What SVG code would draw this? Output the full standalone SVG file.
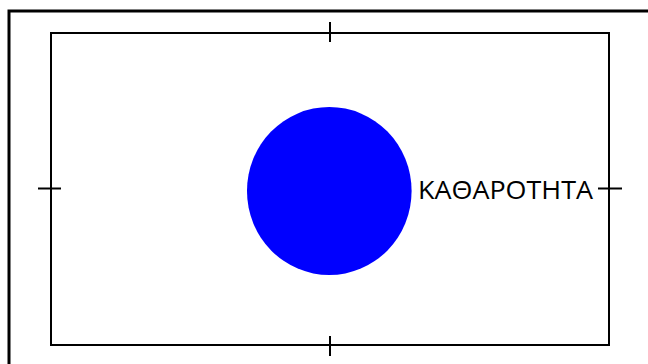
<svg xmlns="http://www.w3.org/2000/svg" width="648" height="364" viewBox="0 0 648 364">
<style>
.frame{fill:none;stroke:#000;stroke-width:3}
.inner{fill:none;stroke:#000;stroke-width:2}
.tick{stroke:#000;stroke-width:2}
.lbl{font-family:"Open Sans","DejaVu Sans",sans-serif;font-size:25px;fill:#000}
</style>
<rect width="648" height="364" fill="#fff"/>
<g id="frame"><rect class="frame" x="9" y="11" width="660" height="380"/></g>
<g id="board">
<rect class="inner" x="51" y="33" width="558" height="312"/>
</g>
<g id="connectors">
<line class="tick" x1="330" y1="22" x2="330" y2="42"/>
<line class="tick" x1="330" y1="336" x2="330" y2="356"/>
<line class="tick" x1="38" y1="188.5" x2="61" y2="188.5"/>
<line class="tick" x1="598" y1="188.5" x2="622" y2="188.5"/>
</g>
<g id="target">
<ellipse cx="329.3" cy="191" rx="82.3" ry="84" fill="#0000FF"/>
</g>
<g id="label">
<text class="lbl" x="418" y="199" textLength="175" lengthAdjust="spacingAndGlyphs">ΚΑΘΑΡΟΤΗΤΑ</text>
</g>
</svg>
